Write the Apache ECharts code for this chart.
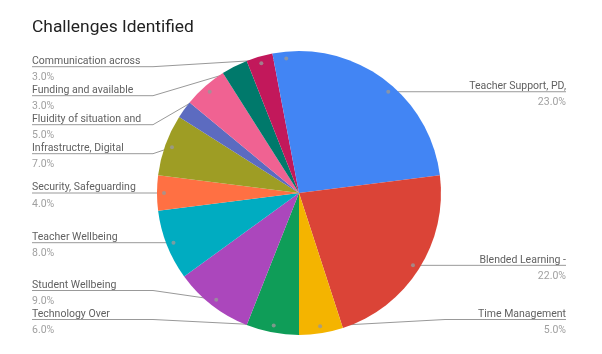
<!DOCTYPE html>
<html>
<head>
<meta charset="utf-8">
<script src="https://cdn.jsdelivr.net/npm/echarts@6/dist/echarts.min.js"></script>
<style>
html,body{margin:0;padding:0;background:#fff;}
#chart{width:602px;height:354px;}
</style>
</head>
<body>
<div id="chart"></div>
<script>
const titleText = 'Challenges Identified';
const categories = ['Teacher Support, PD,', 'Blended Learning -', 'Time Management', 'Technology Over',
  'Student Wellbeing', 'Teacher Wellbeing', 'Security, Safeguarding', 'Infrastructre, Digital',
  'Other A', 'Fluidity of situation and', 'Other B', 'Funding and available', 'Communication across'];
const values = [23, 22, 5, 6, 9, 8, 4, 7, 2, 5, 3, 3, 3];
const labelShown = [true, true, true, true, true, true, true, true, false, true, false, true, true];
const colors = ['#4285F4', '#DB4437', '#F4B400', '#0F9D58', '#AB47BC', '#00ACC1', '#FF7043',
  '#9E9D24', '#5C6BC0', '#F06292', '#00796B', '#C2185B', '#4285F4'];

const cx = 299, cy = 193, R = 142, DOT_R = 135;
const seriesLeft = 32, seriesRight = 36;
const LABEL_GAP = 29;
const TEXT_SHIFT = 2.5;
const minLabelY = cy - R + 15.7, maxLabelY = cy + R - 15.5;

// slice mid angles and a simple label placement (push apart, clamp to pie height)
const total = values.reduce((a, b) => a + b, 0);
let acc = 0;
const dotData = [];
const wanted = [];
values.forEach((v, i) => {
  const mid = (acc + v / 2) / total;
  acc += v;
  if (!labelShown[i]) return;
  dotData.push([DOT_R / R, mid * 100]);
  const ang = mid * 2 * Math.PI;
  wanted.push({i: i, left: Math.sin(ang) < 0, y: cy - DOT_R * Math.cos(ang)});
});
const labelY = {};
[true, false].forEach(side => {
  const list = wanted.filter(w => w.left === side).sort((a, b) => a.y - b.y);
  const ys = list.map(w => Math.min(Math.max(w.y, minLabelY), maxLabelY));
  for (let k = 1; k < ys.length; k++) ys[k] = Math.max(ys[k], ys[k - 1] + LABEL_GAP);
  for (let k = ys.length - 1; k >= 0; k--) {
    ys[k] = Math.min(ys[k], maxLabelY);
    if (k < ys.length - 1) ys[k] = Math.min(ys[k], ys[k + 1] - LABEL_GAP);
  }
  list.forEach((w, k) => { labelY[w.i] = ys[k]; });
});

const chart = echarts.init(document.getElementById('chart'), null, {renderer: 'canvas'});
chart.setOption({
  animation: false,
  backgroundColor: '#ffffff',
  title: {
    text: titleText, left: 32, top: 19, padding: 0,
    textStyle: {fontFamily: 'Roboto', fontSize: 17.4, fontWeight: 'normal', color: '#212121'}
  },
  polar: {center: [cx, cy], radius: R},
  angleAxis: {type: 'value', min: 0, max: 100, startAngle: 90, clockwise: true, show: false},
  radiusAxis: {type: 'value', min: 0, max: 1, show: false},
  series: [{
    type: 'pie',
    left: seriesLeft, right: seriesRight, top: 0, bottom: 0,
    center: [cx - seriesLeft, cy],
    radius: R,
    startAngle: 90,
    clockwise: true,
    avoidLabelOverlap: false,
    z: 2,
    data: categories.map((n, i) => ({
      name: n, value: values[i],
      itemStyle: {color: colors[i]},
      label: {show: labelShown[i]},
      labelLine: {show: labelShown[i]}
    })),
    label: {
      position: 'outer',
      alignTo: 'edge',
      edgeDistance: 0,
      distanceToLabelLine: 0,
      fontFamily: 'Roboto',
      formatter: p => '{n|' + p.name + '}\n{s| }\n{p|' + p.percent.toFixed(1) + '%}',
      rich: {
        n: {fontFamily: 'Roboto', fontSize: 10.5, color: '#616161', lineHeight: 11},
        s: {fontFamily: 'Roboto', fontSize: 4, lineHeight: 5.9},
        p: {fontFamily: 'Roboto', fontSize: 10.5, color: '#a0a0a0', lineHeight: 10}
      }
    },
    labelLine: {length: 4, length2: 8, lineStyle: {color: '#999999', width: 1}},
    labelLayout: function (params) {
      const pts = params.labelLinePoints;
      const rect = params.labelRect;
      if (!pts || labelY[params.dataIndex] == null) return {};
      const isLeft = rect.x + rect.width / 2 < cx;
      const lineY = labelY[params.dataIndex];
      const dx = pts[0][0] - cx, dy = pts[0][1] - cy;
      const d = Math.sqrt(dx * dx + dy * dy) || 1;
      const p0 = [cx + dx / d * DOT_R, cy + dy / d * DOT_R];
      const bendX = isLeft ? cx - R - 4 : cx + R + 4;
      const endX = isLeft ? rect.x : rect.x + rect.width;
      return {y: lineY + TEXT_SHIFT, labelLinePoints: [p0, [bendX, lineY], [endX, lineY]]};
    }
  }, {
    type: 'scatter',
    coordinateSystem: 'polar',
    symbol: 'circle',
    symbolSize: 4,
    z: 5,
    silent: true,
    itemStyle: {color: '#999999'},
    data: dotData
  }]
});
</script>
</body>
</html>
